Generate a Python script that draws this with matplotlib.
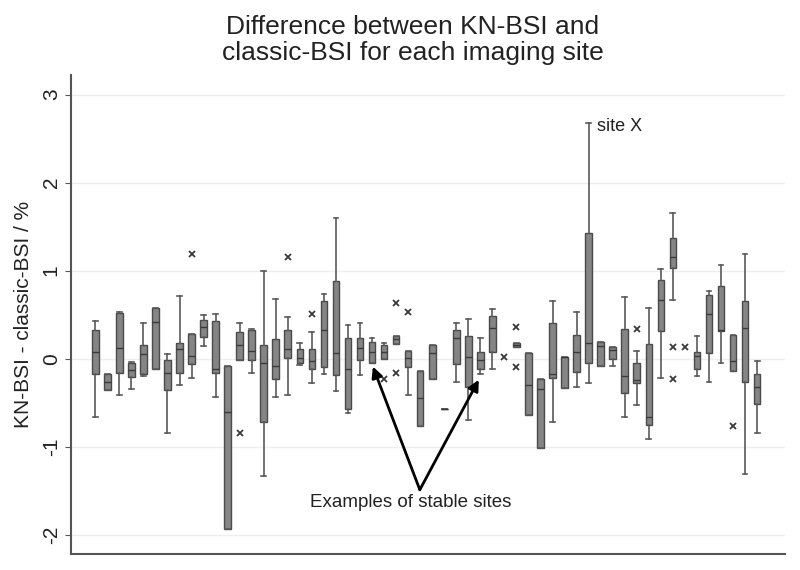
import matplotlib
matplotlib.use('Agg')
import matplotlib.pyplot as plt

plt.rcParams['font.family'] = ['Liberation Sans', 'DejaVu Sans']

# site number and box stats (% units)
sites = [1, 2, 3, 4, 5, 6, 7, 8, 9, 10, 11, 12, 13, 14, 15, 16, 17, 18, 19, 20,
         21, 22, 23, 24, 25, 26, 27, 28, 29, 30, 31, 32, 33, 34, 36, 37, 38, 39, 40,
         41, 42, 43, 44, 45, 46, 47, 48, 49, 51, 52, 53, 54, 55, 56]
q1 = [-0.18, -0.36, -0.16, -0.21, -0.18, -0.12, -0.36, -0.16, -0.06, 0.25,
      -0.16, -1.94, -0.02, -0.02, -0.72, -0.23, 0.01, -0.05, -0.12, -0.10,
      -0.19, -0.57, -0.01, -0.05, 0.00, 0.17, -0.10, -0.77, -0.23, -0.57,
      -0.06, -0.32, -0.12, 0.08, 0.13, -0.64, -1.02, -0.22, -0.33,
      -0.15, -0.05, -0.08, 0.00, -0.39, -0.28, -0.75, 0.31, 1.03, -0.12, 0.06,
      0.31, -0.14, -0.27, -0.51]
med = [0.07, -0.27, 0.12, -0.13, 0.05, 0.42, -0.16, 0.11, 0.03, 0.36,
       -0.12, -0.61, 0.16, 0.09, -0.05, -0.08, 0.11, 0.01, -0.03, 0.32,
       0.06, -0.12, 0.12, 0.08, 0.07, 0.22, 0.01, -0.45, 0.06, -0.57,
       0.24, 0.02, -0.02, 0.35, 0.15, -0.30, -0.35, -0.18, 0.02,
       0.07, 0.18, 0.14, 0.10, -0.20, -0.24, -0.66, 0.67, 1.16, 0.03, 0.51,
       0.32, -0.03, 0.35, -0.32]
q3 = [0.32, -0.18, 0.52, -0.05, 0.15, 0.58, -0.01, 0.18, 0.28, 0.44,
      0.43, -0.08, 0.30, 0.32, 0.15, 0.22, 0.32, 0.11, 0.11, 0.66,
      0.88, 0.24, 0.23, 0.19, 0.16, 0.26, 0.09, -0.14, 0.16, -0.57,
      0.32, 0.26, 0.08, 0.49, 0.18, 0.06, -0.23, 0.41, 0.02,
      0.27, 1.43, 0.19, 0.13, 0.34, -0.05, 0.17, 0.89, 1.37, 0.07, 0.72,
      0.83, 0.27, 0.65, -0.17]
wlo = [-0.66, -0.36, -0.41, -0.34, -0.20, -0.12, -0.84, -0.30, -0.22, 0.14,
       -0.44, -1.94, -0.02, -0.16, -1.33, -0.44, -0.41, -0.07, -0.28, -0.18,
       -0.37, -0.62, -0.19, -0.05, 0.00, 0.17, -0.41, -0.77, -0.23, -0.57,
       -0.27, -0.70, -0.17, -0.12, 0.13, -0.64, -1.02, -0.72, -0.33,
       -0.32, -0.28, -0.08, -0.08, -0.66, -0.53, -0.91, -0.22, 0.67, -0.20, -0.26,
       -0.05, -0.14, -1.31, -0.84]
whi = [0.43, -0.18, 0.53, -0.04, 0.40, 0.58, 0.05, 0.71, 0.28, 0.50,
       0.51, -0.08, 0.41, 0.34, 1.00, 0.68, 0.47, 0.18, 0.30, 0.73,
       1.60, 0.38, 0.40, 0.24, 0.18, 0.26, 0.09, -0.14, 0.16, -0.57,
       0.41, 0.45, 0.24, 0.56, 0.18, 0.06, -0.23, 0.65, 0.02,
       0.53, 2.68, 0.19, 0.13, 0.70, 0.09, 0.58, 1.02, 1.65, 0.26, 0.77,
       1.06, 0.27, 1.19, -0.03]

# outside values
out_site = [9, 13, 17, 19, 25, 26, 26, 27, 35, 36, 36, 46, 49, 49, 50, 54]
out_val = [1.19, -0.84, 1.16, 0.51, -0.23, 0.63, -0.16, 0.53, 0.02, 0.36, -0.09,
           0.34, 0.13, -0.23, 0.13, -0.76]

stats = []
for i in range(len(sites)):
    stats.append({'med': med[i], 'q1': q1[i], 'q3': q3[i],
                  'whislo': wlo[i], 'whishi': whi[i], 'fliers': []})

fig = plt.figure(figsize=(8, 5.7), dpi=100)
ax = fig.add_axes([0.089, 0.028, 0.892, 0.840])

ax.bxp(stats, positions=sites, widths=0.55, patch_artist=True,
       showfliers=False, capwidths=0.4,
       boxprops=dict(facecolor='#858585', edgecolor='#4a4a4a', linewidth=1.0),
       whiskerprops=dict(color='#5a5a5a', linewidth=1.2),
       capprops=dict(color='#5a5a5a', linewidth=1.2),
       medianprops=dict(color='#3a3a3a', linewidth=1.0))

ax.plot(out_site, out_val, 'x', color='#3a3a3a', markersize=5, markeredgewidth=1.3)

ax.set_xlim(-1.0, 58.3)
ax.set_ylim(-2.22, 3.22)
ax.set_yticks([-2, -1, 0, 1, 2, 3])
ax.set_yticklabels(['-2', '-1', '0', '1', '2', '3'], rotation=90, va='center')
ax.set_xticks([])
ax.tick_params(axis='y', labelsize=15, length=4, color='#555555', labelcolor='#222222')
ax.yaxis.grid(True, color='#eeeeee', linewidth=1.0)
ax.set_axisbelow(True)
for s in ['top', 'right']:
    ax.spines[s].set_visible(False)
for s in ['left', 'bottom']:
    ax.spines[s].set_color('#555555')
    ax.spines[s].set_linewidth(1.5)

ax.set_ylabel('KN-BSI - classic-BSI / %', fontsize=15, color='#222222', labelpad=6)

fig.text(0.516, 0.930, 'Difference between KN-BSI and\nclassic-BSI for each imaging site',
         ha='center', va='center', fontsize=19, color='#222222', linespacing=1.1)

ax.text(42.66, 2.64, 'site X', fontsize=13, color='#222222', va='center', ha='left')

ax.text(27.2, -1.64, 'Examples of stable sites', fontsize=13.5, color='#222222',
        ha='center', va='center')
for tx, ty in [(24.07, -0.09), (32.87, -0.24)]:
    ax.annotate('', xy=(tx, ty), xytext=(27.97, -1.49),
                arrowprops=dict(arrowstyle='-|>', color='black', lw=2,
                                mutation_scale=16, shrinkA=0, shrinkB=0))

fig.savefig('out.png', dpi=100)
